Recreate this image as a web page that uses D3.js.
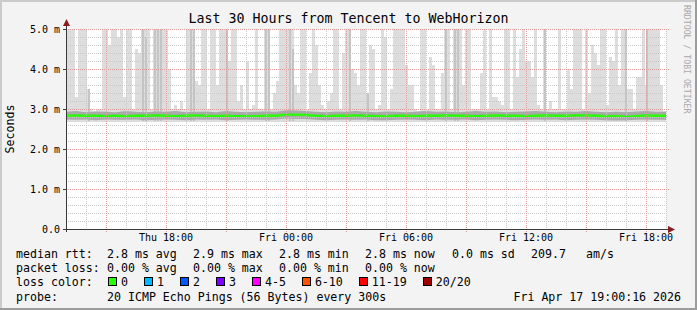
<!DOCTYPE html>
<html>
<head>
<meta charset="utf-8">
<script src="https://cdn.jsdelivr.net/npm/d3@7"></script>
<style>
  body { margin: 0; background: #f3f3f3; }
  svg text { font-family: "DejaVu Sans Mono", monospace; }
</style>
</head>
<body>
<svg id="chart" width="697" height="310"></svg>
<script>
// --- data ---
const titleText = "Last 30 Hours from Tencent to WebHorizon";
const startTime = new Date(2026, 3, 16, 13, 0, 0);
const endTime = new Date(2026, 3, 17, 19, 0, 0);
const colMinutes = 9;      // one smoke column per 9 minutes (200 columns)
const lineMinutes = 30;    // median / inner band sampled every 30 minutes

// top of the light smoke (max rtt, ms), values above 5 are clipped
const smokeMax = [
  6, 6, 6, 3.3, 6, 6, 6, 3.5, 3.0, 2.95, 3.0, 3.0, 6, 6, 4.6, 6, 6, 4.8, 6, 3.3,
  6, 6, 3.0, 4.5, 4.4, 6, 6, 6, 3.0, 6, 6, 6, 6, 6, 4.0, 3.0, 3.1, 3.0, 3.2, 3.0,
  6, 6, 6, 3.7, 3.6, 6, 6, 3.0, 6, 6,
  3.6, 6, 6, 6, 4.2, 6, 6, 3.2, 3.6, 3.0, 4.2, 3.0, 3.1, 6, 3.0, 3.0, 6, 6, 3.0, 3.4,
  3.7, 6, 6, 6, 6, 6, 3.6, 3.4, 6, 6, 3.0, 3.9, 6, 4.6, 3.6, 3.1, 3.0, 3.2, 3.4, 6,
  6, 3.0, 4.4, 6, 6, 4.0, 3.9, 3.6, 6, 6,
  3.4, 4.6, 4.5, 3.0, 3.1, 6, 4.8, 3.0, 3.5, 6, 5.0, 6, 6, 4.1, 3.6, 3.6, 3.0, 2.95, 6, 6,
  3.0, 4.3, 4.1, 3.0, 3.0, 3.9, 6, 6, 3.0, 6, 6, 6, 3.6, 6, 6, 3.0, 3.0, 3.0, 3.9, 6,
  3.0, 6, 3.3, 3.3, 3.2, 3.1, 6, 6, 3.0, 6,
  3.8, 4.5, 6, 4.2, 4.2, 3.8, 6, 3.1, 3.0, 6, 3.0, 3.2, 3.0, 3.0, 6, 3.0, 3.0, 4.0, 3.5, 6,
  6, 6, 3.0, 6, 3.4, 4.6, 4.4, 4.1, 6, 6, 3.1, 4.3, 4.2, 6, 3.6, 6, 6, 3.5, 3.5, 3.0,
  3.8, 3.8, 6, 3.6, 6, 6, 6, 6, 3.6, 2.95
];

// darker smoke columns: [column, top value]
const darkBars = [
  [7, 3.5], [25, 6], [26, 4.8], [29, 6], [30, 6], [31, 6], [41, 6], [42, 5.5],
  [53, 6], [66, 6], [67, 6], [74, 6], [75, 4.5], [94, 6],
  [100, 3.4], [126, 6], [129, 6], [130, 6],
  [159, 6], [186, 6], [193, 6]
];

const medianRtt = [
  2.83, 2.84, 2.83, 2.83, 2.82, 2.83, 2.82, 2.83, 2.83, 2.84, 2.83, 2.82, 2.83, 2.84, 2.83,
  2.82, 2.83, 2.82, 2.82, 2.82, 2.83, 2.83, 2.86, 2.86, 2.85, 2.83, 2.82, 2.83, 2.83, 2.84,
  2.83, 2.82, 2.82, 2.83, 2.83, 2.82, 2.83, 2.83, 2.84, 2.83, 2.83, 2.82, 2.83, 2.84, 2.83,
  2.83, 2.82, 2.83, 2.84, 2.83, 2.83, 2.84, 2.84, 2.83, 2.82, 2.82, 2.81, 2.82, 2.84, 2.83, 2.83
];
const innerHi = [
  2.93, 2.95, 2.92, 2.94, 2.93, 2.92, 2.95, 2.93, 2.92, 2.94, 2.93, 2.95, 2.92, 2.93, 2.94,
  2.92, 2.95, 2.93, 2.92, 2.93, 2.94, 2.93, 2.97, 2.96, 2.95, 2.93, 2.92, 2.94, 2.93, 2.95,
  2.93, 2.92, 2.94, 2.93, 2.92, 2.93, 2.95, 2.93, 2.94, 2.92, 2.93, 2.95, 2.93, 2.94, 2.92,
  2.93, 2.94, 2.95, 2.93, 2.92, 2.94, 2.93, 2.95, 2.93, 2.92, 2.93, 2.92, 2.94, 2.95, 2.93, 2.93
];
const innerLo = [
  2.74, 2.73, 2.74, 2.72, 2.74, 2.73, 2.73, 2.74, 2.72, 2.73, 2.74, 2.73, 2.72, 2.74, 2.73,
  2.74, 2.72, 2.73, 2.74, 2.73, 2.73, 2.74, 2.76, 2.75, 2.75, 2.73, 2.72, 2.73, 2.74, 2.73,
  2.74, 2.72, 2.72, 2.73, 2.74, 2.73, 2.72, 2.74, 2.73, 2.73, 2.74, 2.72, 2.73, 2.74, 2.73,
  2.72, 2.73, 2.74, 2.73, 2.74, 2.72, 2.73, 2.74, 2.73, 2.72, 2.71, 2.72, 2.73, 2.74, 2.73, 2.73
];

const statRows = [
  { label: "median rtt:", items: ["2.8 ms avg", "2.9 ms max", "2.8 ms min", "2.8 ms now", "0.0 ms sd", "209.7", "am/s"] },
  { label: "packet loss:", items: ["0.00 % avg", "0.00 % max", "0.00 % min", "0.00 % now"] }
];
const statX = [107, 193, 279, 365, 452, 531, 586];
const lossLabels = ["0", "1", "2", "3", "4-5", "6-10", "11-19", "20/20"];
const lossColors = ["#26ff00", "#00b8ff", "#0059ff", "#7e00ff", "#ff00ff", "#ff5500", "#ff0000", "#a10000"];
const probeText = "20 ICMP Echo Pings (56 Bytes) every 300s";
const stampText = "Fri Apr 17 19:00:16 2026";

// --- layout ---
const W = 697, H = 310;
const plot = { left: 66, right: 666, top: 29, bottom: 229 };

const svg = d3.select("#chart");

// frame with shading
svg.append("rect").attr("width", W).attr("height", H).attr("fill", "#f3f3f3");
svg.append("path").attr("d", `M0,${H} V0 H${W}`).attr("fill", "none")
    .attr("stroke", "#cbcbcb").attr("stroke-width", 4);
svg.append("path").attr("d", `M0,${H} H${W} V0`).attr("fill", "none")
    .attr("stroke", "#9c9c9c").attr("stroke-width", 4);

const x = d3.scaleTime().domain([startTime, endTime]).range([plot.left, plot.right]);
const y = d3.scaleLinear().domain([0, 5]).range([plot.bottom, plot.top]);

svg.append("rect")
    .attr("x", plot.left).attr("y", plot.top)
    .attr("width", plot.right - plot.left).attr("height", plot.bottom - plot.top)
    .attr("fill", "#ffffff");

svg.append("defs").append("clipPath").attr("id", "plotclip")
  .append("rect")
    .attr("x", plot.left).attr("y", plot.top)
    .attr("width", plot.right - plot.left).attr("height", plot.bottom - plot.top);

const g = svg.append("g").attr("clip-path", "url(#plotclip)");

const colTime = i => d3.timeMinute.offset(startTime, i * colMinutes);
const lineTime = i => d3.timeMinute.offset(startTime, i * lineMinutes);

// light smoke
g.append("g").selectAll("rect")
  .data(smokeMax)
  .join("rect")
    .attr("x", (d, i) => x(colTime(i)))
    .attr("width", (d, i) => x(colTime(i + 1)) - x(colTime(i)) + 0.3)
    .attr("y", d => y(Math.min(d, 5.2)))
    .attr("height", d => y(2.68) - y(Math.min(d, 5.2)))
    .attr("fill", "#dddddd")
    .attr("shape-rendering", "crispEdges");

// darker smoke
g.append("g").selectAll("rect")
  .data(darkBars)
  .join("rect")
    .attr("x", d => x(colTime(d[0])) + 0.5)
    .attr("width", d => x(colTime(d[0] + 1)) - x(colTime(d[0])) - 0.5)
    .attr("y", d => y(Math.min(d[1], 5.2)))
    .attr("height", d => y(2.7) - y(Math.min(d[1], 5.2)))
    .attr("fill", "#c4c4c4")
    .attr("shape-rendering", "crispEdges");

// grid
const minorY = d3.range(0, 5.01, 0.2).filter(v => Math.abs(v - Math.round(v)) > 0.01);
const majorY = d3.range(0, 6, 1);
const minorX = d3.timeHour.every(1).range(startTime, d3.timeMinute.offset(endTime, 1))
    .filter(t => t.getHours() % 3 !== 0);
const majorX = d3.timeHour.every(3).range(startTime, d3.timeMinute.offset(endTime, 1));

const grid = svg.append("g").attr("shape-rendering", "crispEdges");
grid.selectAll(".hmin").data(minorY).join("line")
    .attr("x1", plot.left).attr("x2", plot.right)
    .attr("y1", d => Math.round(y(d)) + 0.5).attr("y2", d => Math.round(y(d)) + 0.5)
    .attr("stroke", "#c8c8c8").attr("stroke-dasharray", "1,1");
grid.selectAll(".vmin").data(minorX).join("line")
    .attr("x1", d => Math.round(x(d)) + 0.5).attr("x2", d => Math.round(x(d)) + 0.5)
    .attr("y1", plot.top).attr("y2", plot.bottom)
    .attr("stroke", "#c8c8c8").attr("stroke-dasharray", "1,1");
grid.selectAll(".hmaj").data(majorY.slice(1)).join("line")
    .attr("x1", plot.left).attr("x2", plot.right + 3)
    .attr("y1", d => Math.round(y(d)) + 0.5).attr("y2", d => Math.round(y(d)) + 0.5)
    .attr("stroke", "#e39a9a").attr("stroke-dasharray", "1,1");
grid.selectAll(".vmaj").data(majorX.filter(t => +t > +startTime)).join("line")
    .attr("x1", d => Math.round(x(d)) + 0.5).attr("x2", d => Math.round(x(d)) + 0.5)
    .attr("y1", plot.top).attr("y2", plot.bottom + 3)
    .attr("stroke", "#e39a9a").attr("stroke-dasharray", "1,1");

// inner smoke around the median
const band = d3.area()
    .x((d, i) => x(lineTime(i)))
    .y0((d, i) => y(innerLo[i]))
    .y1((d, i) => y(innerHi[i]));
g.append("path").datum(innerHi).attr("d", band).attr("fill", "#a9a9a9");

const median = d3.line()
    .x((d, i) => x(lineTime(i)))
    .y(d => y(d));
g.append("path").datum(medianRtt).attr("d", median)
    .attr("fill", "none").attr("stroke", lossColors[0]).attr("stroke-width", 2.4);

// axes
const axisColor = "#3a3a3a";
const arrowColor = "#8a1c1c";
svg.append("line")
    .attr("x1", plot.left + 0.5).attr("x2", plot.left + 0.5)
    .attr("y1", plot.bottom + 3).attr("y2", plot.top - 7)
    .attr("stroke", axisColor);
svg.append("line")
    .attr("x1", plot.left - 3).attr("x2", plot.right + 5)
    .attr("y1", plot.bottom + 0.5).attr("y2", plot.bottom + 0.5)
    .attr("stroke", axisColor);
svg.append("path")
    .attr("d", `M${plot.left + 0.5},${plot.top - 10} l-3.5,7 h7 z`)
    .attr("fill", arrowColor);
svg.append("path")
    .attr("d", `M${plot.right + 9},${plot.bottom + 0.5} l-7,-3.5 v7 z`)
    .attr("fill", arrowColor);

// y tick labels and ticks
svg.append("g").selectAll("line").data(majorY).join("line")
    .attr("x1", plot.left - 3).attr("x2", plot.left)
    .attr("y1", d => Math.round(y(d)) + 0.5).attr("y2", d => Math.round(y(d)) + 0.5)
    .attr("stroke", axisColor);
svg.append("g").selectAll("text").data(majorY).join("text")
    .attr("x", plot.left - 6)
    .attr("y", d => y(d) + 3.5)
    .attr("text-anchor", "end")
    .attr("font-size", 10)
    .attr("fill", "#000")
    .text(d => d === 0 ? "0.0" : d.toFixed(1) + " m");

// x tick labels
const labelX = d3.timeHour.every(6).range(startTime, d3.timeMinute.offset(endTime, 1));
const fmt = d3.timeFormat("%a %H:%M");
svg.append("g").selectAll("text").data(labelX).join("text")
    .attr("x", d => x(d))
    .attr("y", plot.bottom + 12)
    .attr("text-anchor", "middle")
    .attr("font-size", 10)
    .attr("fill", "#000")
    .text(d => fmt(d));

// title, y label, watermark
svg.append("text")
    .attr("x", W / 2).attr("y", 23)
    .attr("text-anchor", "middle")
    .attr("font-size", 13.3)
    .text(titleText);

svg.append("text")
    .attr("transform", `translate(14, ${(plot.top + plot.bottom) / 2}) rotate(-90)`)
    .attr("text-anchor", "middle")
    .attr("font-size", 11.6)
    .text("Seconds");

svg.append("text")
    .attr("transform", "translate(684, 5) rotate(90)")
    .attr("font-size", 8.2)
    .attr("fill", "#a8a8a8")
    .text("RRDTOOL / TOBI OETIKER");

// legend
const rowY = [258, 272, 286, 301];
const legendFont = 11.6;
const charW = legendFont * 0.602;

statRows.forEach((row, r) => {
  svg.append("text").attr("x", 16).attr("y", rowY[r]).attr("font-size", legendFont).text(row.label);
  row.items.forEach((t, i) => {
    svg.append("text").attr("x", statX[i]).attr("y", rowY[r]).attr("font-size", legendFont).text(t);
  });
});

svg.append("text").attr("x", 16).attr("y", rowY[2]).attr("font-size", legendFont).text("loss color:");
let lx = 108;
lossLabels.forEach((lab, i) => {
  svg.append("rect")
      .attr("x", lx + 0.5).attr("y", rowY[2] - 8.5)
      .attr("width", 8).attr("height", 8)
      .attr("fill", lossColors[i])
      .attr("stroke", "#000").attr("stroke-width", 1)
      .attr("shape-rendering", "crispEdges");
  svg.append("text").attr("x", lx + 13).attr("y", rowY[2]).attr("font-size", legendFont).text(lab);
  lx = lx + 13 + lab.length * charW + 16;
});

svg.append("text").attr("x", 16).attr("y", rowY[3]).attr("font-size", legendFont).text("probe:");
svg.append("text").attr("x", 107).attr("y", rowY[3]).attr("font-size", legendFont).text(probeText);
svg.append("text").attr("x", 681).attr("y", rowY[3]).attr("text-anchor", "end")
    .attr("font-size", legendFont).text(stampText);
</script>
</body>
</html>
